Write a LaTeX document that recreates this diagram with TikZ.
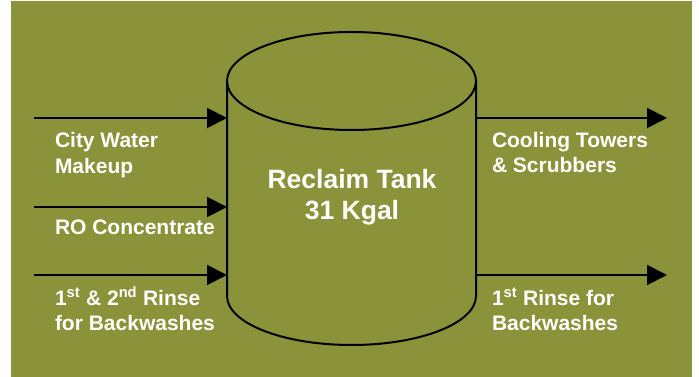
\documentclass[tikz,border=0pt]{standalone}
\usepackage{fontspec}
\setmainfont{Liberation Sans}
\usetikzlibrary{arrows.meta}
\definecolor{olivebg}{RGB}{138,146,58}
\begin{document}
\begin{tikzpicture}[x=1pt, y=1pt,
	every node/.style={inner sep=0pt, outer sep=0pt, text=white},
	flow/.style={draw=black, line width=2pt, -{Triangle[length=20pt, width=20pt]}},
	tankline/.style={draw=black, line width=2pt},
	sidelabel/.style={anchor=base west, align=left, font=\fontsize{21}{25.5}\selectfont\bfseries},
	tanklabel/.style={anchor=base, align=center, font=\fontsize{26.5}{31}\selectfont\bfseries}]
	\useasboundingbox (0,0) rectangle (699,377);
	\fill[olivebg] (11,0) rectangle (692,376);

	% tank
	\node (tank) at (351.5,188.5) [minimum width=249pt, minimum height=215pt] {};
	\draw[tankline] (tank.north west) -- (tank.south west)
		arc[start angle=180, end angle=360, x radius=124.5, y radius=49] -- (tank.north east);
	\draw[tankline] (tank.north) ellipse [x radius=124.5, y radius=49];
	\node[tanklabel] (tankText) at (352,157) {Reclaim Tank\\31 Kgal};

	% streams in and out
	\coordinate (inCity) at (34,259);
	\coordinate (inRO) at (34,170);
	\coordinate (inRinse) at (34,102);
	\coordinate (outCool) at (667,259);
	\coordinate (outRinse) at (667,102);
	\draw[flow] (inCity) -- (inCity -| tank.west);
	\draw[flow] (inRO) -- (inRO -| tank.west);
	\draw[flow] (inRinse) -- (inRinse -| tank.west);
	\draw[flow] (outCool -| tank.east) -- (outCool);
	\draw[flow] (outRinse -| tank.east) -- (outRinse);

	% base anchor sits on the last line
	\node[sidelabel] (cityText) at (55,203.7) {City Water\\Makeup};
	\node[sidelabel] (roText) at (55,142) {RO Concentrate};
	\node[sidelabel] (rinseInText) at (55,46) {1\textsuperscript{st} \& 2\textsuperscript{nd} Rinse\\for Backwashes};
	\node[sidelabel] (coolText) at (492,204) {Cooling Towers\\\& Scrubbers};
	\node[sidelabel] (rinseOutText) at (492,46) {1\textsuperscript{st} Rinse for\\Backwashes};
\end{tikzpicture}
\end{document}
